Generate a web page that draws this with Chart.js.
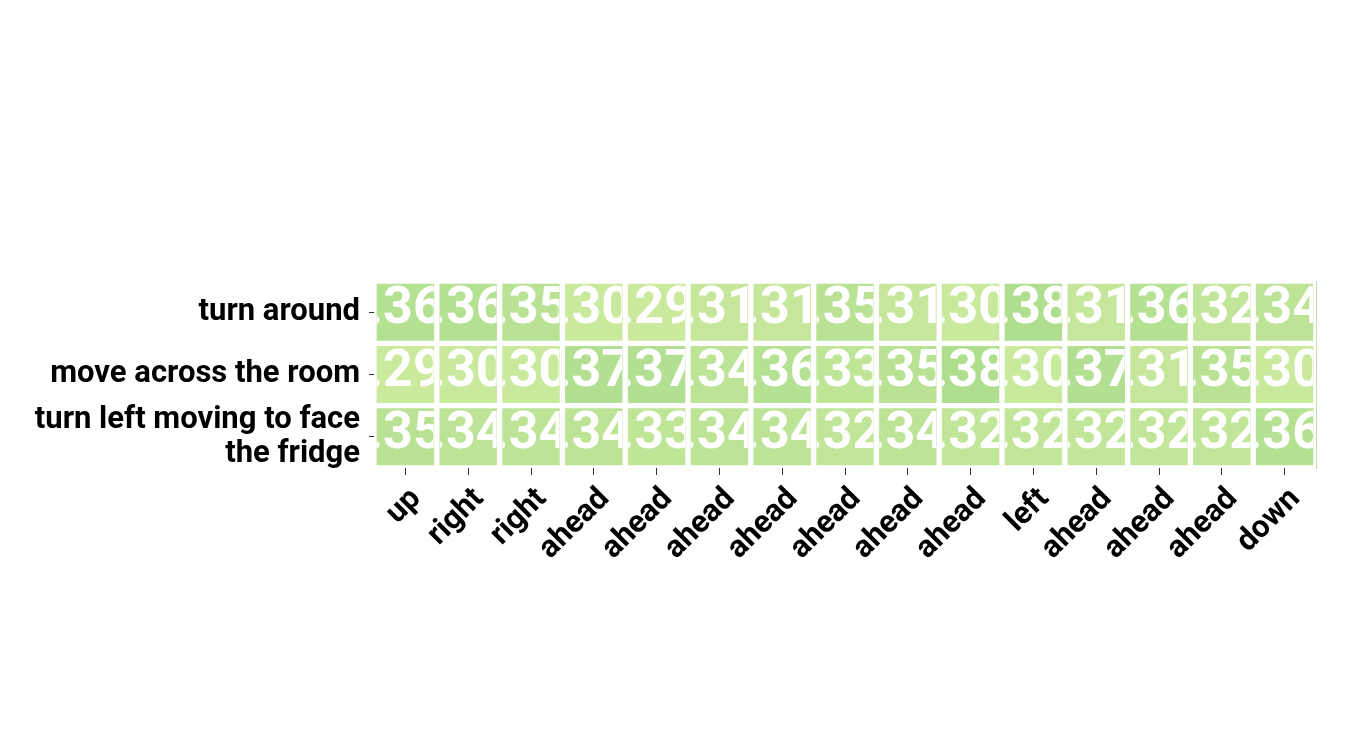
<!DOCTYPE html>
<html>
<head>
<meta charset="utf-8">
<script src="https://cdn.jsdelivr.net/npm/chart.js@4"></script>
<style>
  html, body { margin: 0; padding: 0; background: #ffffff; }
  #wrap { width: 1350px; height: 750px; position: relative; }
</style>
</head>
<body>
<div id="wrap"><canvas id="c" width="1350" height="750"></canvas></div>
<script>
const columnLabels = ["up","right","right","ahead","ahead","ahead","ahead","ahead","ahead","ahead","left","ahead","ahead","ahead","down"];
const rowLabels = [["turn around"], ["move across the room"], ["turn left moving to face", "the fridge"]];
const turnAround = [0.36,0.36,0.35,0.30,0.29,0.31,0.31,0.35,0.31,0.30,0.38,0.31,0.36,0.32,0.34];
const moveAcross = [0.29,0.30,0.30,0.37,0.37,0.34,0.36,0.33,0.35,0.38,0.30,0.37,0.31,0.35,0.30];
const turnLeft   = [0.35,0.34,0.34,0.34,0.33,0.34,0.34,0.32,0.34,0.32,0.32,0.32,0.32,0.32,0.36];
const rows = [turnAround, moveAcross, turnLeft];

const vMin = 0.29, vMax = 0.38;
const light = [204, 234, 158], dark = [175, 222, 143];
function colorFor(v) {
  const t = Math.max(0, Math.min(1, (v - vMin) / (vMax - vMin)));
  const c = light.map((l, i) => Math.round(l + (dark[i] - l) * t));
  return `rgb(${c[0]},${c[1]},${c[2]})`;
}
function fmt(v) { return v.toFixed(2).replace(/^0/, ""); }

const datasets = rows.map((vals, r) => ({
  label: rowLabels[r].join(" "),
  data: vals.map(() => [r - 0.5, r + 0.5]),
  values: vals,
  backgroundColor: vals.map(colorFor),
  borderColor: "#ffffff",
  borderWidth: 3,
  borderSkipped: false,
  grouped: false,
  barPercentage: 1,
  categoryPercentage: 1
}));

const cellText = {
  id: "cellText",
  afterDatasetsDraw(chart) {
    const ctx = chart.ctx;
    chart.data.datasets.forEach((ds, di) => {
      const meta = chart.getDatasetMeta(di);
      meta.data.forEach((bar, i) => {
        const p = bar.getProps(["x", "y", "base", "width"], true);
        const top = Math.min(p.y, p.base), bottom = Math.max(p.y, p.base);
        const left = p.x - p.width / 2;
        ctx.save();
        ctx.beginPath();
        ctx.rect(left + 3, top + 3, p.width - 6, bottom - top - 6);
        ctx.clip();
        ctx.fillStyle = "#ffffff";
        ctx.font = "bold 52px Roboto";
        ctx.textAlign = "center";
        ctx.textBaseline = "middle";
        ctx.fillText(fmt(ds.values[i]), p.x, (top + bottom) / 2 - 2);
        ctx.restore();
      });
    });
  }
};

new Chart(document.getElementById("c"), {
  type: "bar",
  data: { labels: columnLabels, datasets },
  options: {
    responsive: false,
    animation: false,
    layout: { padding: { top: 281, right: 33, left: 0, bottom: 0 } },
    plugins: { legend: { display: false }, tooltip: { enabled: false } },
    scales: {
      x: {
        grid: { drawOnChartArea: false, drawTicks: true, tickLength: 7, color: "#333333", offset: false },
        border: { display: false },
        ticks: { color: "#000000", font: { family: "Roboto", size: 31, weight: "bold" }, maxRotation: 45, minRotation: 45, padding: 6, labelOffset: 11, autoSkip: false },
        afterFit(s) { s.height = 750 - 468; }
      },
      y: {
        type: "linear",
        reverse: true,
        min: -0.5,
        max: 2.5,
        afterBuildTicks(s) { s.ticks = [0, 1, 2].map(v => ({ value: v })); },
        grid: { drawOnChartArea: false, drawTicks: true, tickLength: 5, color: "#333333" },
        border: { display: false },
        ticks: {
          color: "#000000",
          font: { family: "Roboto", size: 31, weight: "bold", lineHeight: 1.1 },
          padding: 9,
          callback: (v) => rowLabels[v] ? (rowLabels[v].length > 1 ? rowLabels[v] : rowLabels[v][0]) : ""
        },
        afterFit(s) { s.width = 374; }
      },
      y2: {
        type: "linear",
        position: "right",
        min: -0.5,
        max: 2.5,
        grid: { drawOnChartArea: false, drawTicks: false },
        border: { display: true, color: "#c6dcb4", width: 1 },
        ticks: { display: false },
        afterFit(s) { s.width = 1; }
      }
    }
  },
  plugins: [cellText]
});
</script>
</body>
</html>
